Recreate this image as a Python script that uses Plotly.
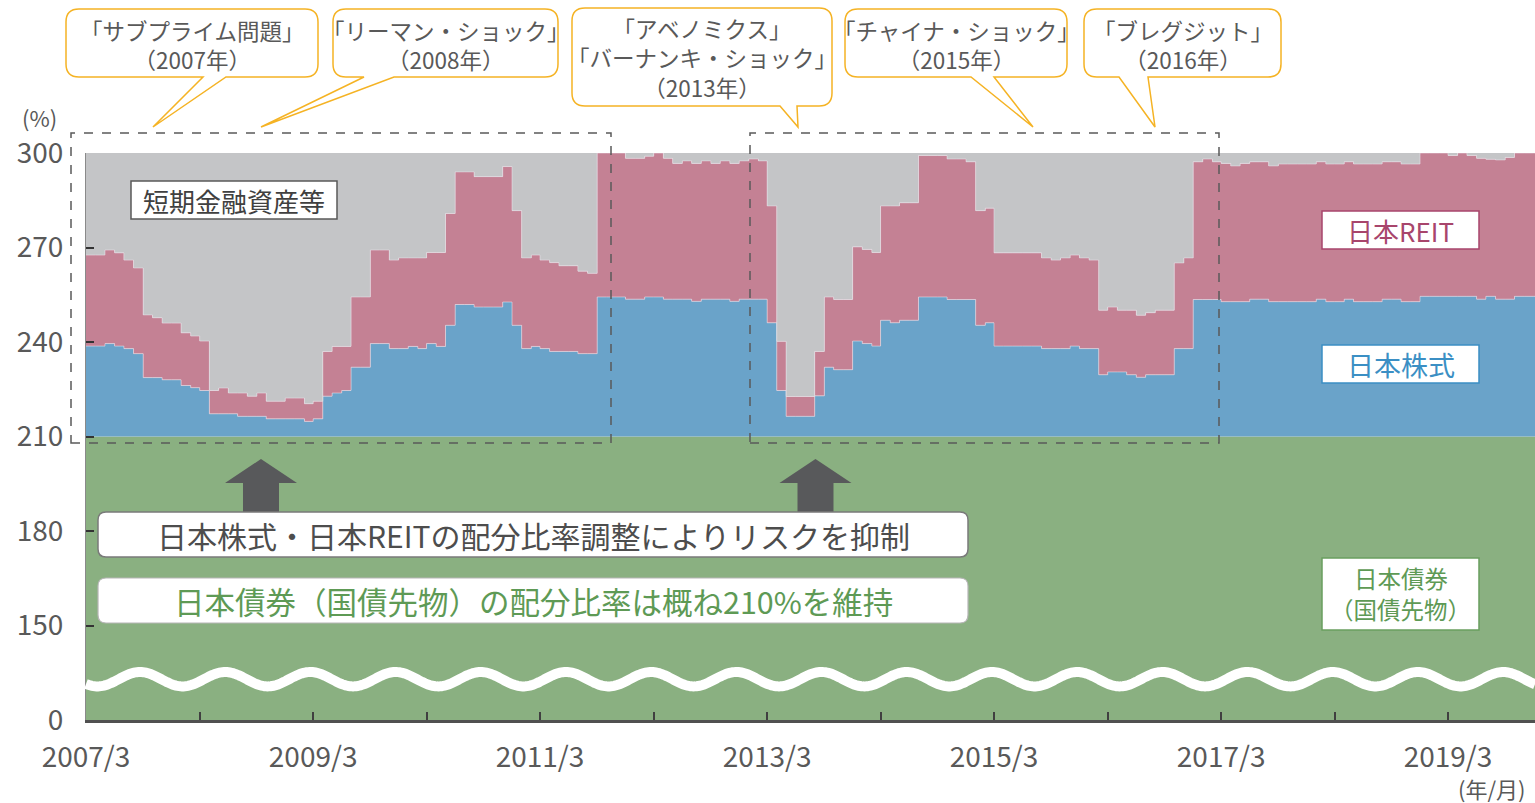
import math
import pandas as pd
import plotly.graph_objects as go

# ---------------- data (monthly, 2007/3 - 2019/12) ----------------
months = pd.date_range("2007-03-01", "2019-12-01", freq="MS")

stocks = [
    28.7, 28.7, 29.5, 28.7, 27.9, 26.3, 18.7, 18.7, 18.0, 18.0, 16.2, 15.5,   # 2007/3-
    14.6, 7.2, 7.2, 7.2, 6.4, 6.4, 6.4, 5.6, 5.6, 5.6, 5.6, 4.8,              # 2008/3-
    5.6, 12.8, 13.8, 14.6, 22.0, 22.0, 29.5, 29.5, 27.9, 27.9, 28.6, 27.9,    # 2009/3-
    29.5, 28.6, 35.3, 41.9, 41.9, 41.1, 41.1, 41.1, 42.7, 35.3, 27.9, 28.6,   # 2010/3-
    27.9, 27.0, 27.0, 27.0, 26.3, 26.3, 44.3, 44.3, 44.3, 43.6, 43.6, 44.3,   # 2011/3-
    44.3, 43.6, 43.6, 43.6, 42.9, 43.6, 43.6, 43.6, 42.9, 43.6, 43.6, 43.6,   # 2012/3-
    36.1, 14.6, 6.4, 6.4, 6.4, 12.9, 22.0, 21.2, 21.2, 30.3, 29.5, 28.7,      # 2013/3-
    36.9, 36.1, 36.9, 36.9, 44.3, 44.3, 44.3, 43.5, 43.5, 43.5, 35.3, 36.1,   # 2014/3-
    28.7, 28.7, 28.7, 28.7, 28.7, 27.9, 27.9, 27.9, 28.7, 27.9, 27.9, 19.6,   # 2015/3-
    20.5, 20.5, 19.6, 18.8, 19.6, 19.6, 19.6, 27.9, 27.9, 43.5, 43.5, 43.5,   # 2016/3-
    42.8, 42.8, 42.8, 43.6, 43.6, 42.8, 42.8, 42.8, 42.8, 42.8, 43.6, 42.8,   # 2017/3-
    42.8, 43.6, 42.8, 42.8, 42.8, 43.6, 43.6, 42.8, 42.8, 44.5, 44.5, 44.5,   # 2018/3-
    44.5, 44.5, 44.5, 43.6, 44.5, 43.6, 43.6, 44.5, 44.5, 44.5,               # 2019/3-12
]

reit = [
    28.9, 28.9, 29.7, 29.6, 28.1, 27.2, 19.9, 19.0, 18.0, 18.0, 16.7, 16.4,
    15.7, 7.4, 8.2, 6.6, 7.4, 6.4, 7.4, 5.6, 5.6, 6.6, 6.6, 5.6,
    5.6, 14.2, 14.8, 14.0, 22.3, 22.3, 29.7, 29.7, 28.1, 28.8, 28.1, 28.8,
    28.9, 29.8, 35.5, 42.1, 42.1, 41.4, 41.4, 41.4, 43.0, 36.4, 28.8, 29.0,
    28.1, 28.2, 27.2, 27.2, 26.2, 25.5, 45.7, 45.7, 45.7, 44.7, 44.7, 44.7,
    45.7, 44.7, 43.1, 43.9, 43.8, 43.9, 43.1, 43.9, 43.8, 43.9, 44.5, 43.9,
    37.1, 15.6, 6.3, 6.3, 6.3, 14.1, 22.3, 22.3, 22.3, 29.9, 29.9, 29.7,
    36.3, 37.1, 37.3, 37.3, 44.9, 44.9, 44.9, 44.6, 44.6, 43.7, 36.4, 36.4,
    29.6, 29.6, 29.6, 29.6, 29.6, 28.8, 28.1, 28.8, 28.9, 28.8, 28.1, 20.5,
    20.6, 19.6, 20.5, 19.7, 19.7, 20.5, 20.5, 27.2, 28.8, 43.7, 44.6, 43.7,
    43.9, 43.1, 43.9, 43.6, 43.6, 43.1, 43.7, 43.7, 43.7, 43.7, 43.6, 43.7,
    43.7, 43.6, 43.7, 43.7, 43.7, 43.6, 43.6, 43.7, 43.7, 45.5, 45.5, 45.5,
    44.7, 45.5, 44.7, 44.7, 43.5, 44.2, 45.0, 45.5, 45.5, 45.5,
]

bonds = [210.0] * len(months)          # 日本債券（国債先物）: ~210% throughout
TOTAL = 300.0
cash = [max(0.0, round(TOTAL - b - s - r, 1)) for b, s, r in zip(bonds, stocks, reit)]

tick_dates = ["2007-03-01", "2009-03-01", "2011-03-01", "2013-03-01",
              "2015-03-01", "2017-03-01", "2019-03-01"]
tick_labels = ["2007/3", "2009/3", "2011/3", "2013/3", "2015/3", "2017/3", "2019/3"]
y_tickvals = [120, 150, 180, 210, 240, 270, 300]
y_ticktext = ["0", "150", "180", "210", "240", "270", "300"]

# extend last month so the final step is drawn
x_vals = list(months) + [pd.Timestamp("2020-01-01")]
def ext(a):
    return list(a) + [a[-1]]

FONT = "Noto Sans CJK JP"
GRAY_TXT = "#595959"
C_GREEN = "#8AB081"
C_BLUE = "#6AA3C9"
C_PINK = "#C48194"
C_GREY = "#C4C5C7"

fig = go.Figure()
series = [
    ("日本債券（国債先物）", bonds, C_GREEN, 0),
    ("日本株式", stocks, C_BLUE, 1),
    ("日本REIT", reit, C_PINK, 1),
    ("短期金融資産等", cash, C_GREY, 0),
]
for name, vals, col, lw in series:
    fig.add_trace(go.Scatter(
        x=x_vals, y=ext(vals), name=name, mode="lines",
        stackgroup="one", fillcolor=col,
        line=dict(shape="hv", width=lw, color="rgba(235,225,235,0.55)" if lw else col),
        showlegend=False, hoverinfo="skip",
    ))

# ---------------- geometry helpers (pixel -> paper) ----------------
L, R, T, B = 86, 1535, 153, 720
def px(x):
    return (x - L) / (R - L)
def py(y):
    return (B - y) / (B - T)
def P(x, y):
    return f"{px(x):.5f},{py(y):.5f}"

shapes = []

# wavy break line
wave_pts = []
x = 86.0
while x <= 1535.0:
    y = 679.2 - 7.2 * math.cos(2 * math.pi * (x - 140.0) / 85.2)
    wave_pts.append(P(x, y))
    x += 1.5
shapes.append(dict(type="path", xref="paper", yref="paper",
                   path="M " + " L ".join(wave_pts),
                   line=dict(color="white", width=10), layer="above"))

# dashed highlight rectangles
for x0, x1 in [(71, 611), (750, 1219)]:
    shapes.append(dict(type="rect", xref="paper", yref="paper",
                       x0=px(x0), x1=px(x1), y0=py(443), y1=py(133),
                       line=dict(color="#5a5a5a", width=1.5, dash="dash"),
                       fillcolor="rgba(0,0,0,0)", layer="above"))

# up arrows
def arrow(cx):
    pts = [(cx, 459), (cx + 36, 483), (cx + 18, 483), (cx + 18, 515),
           (cx - 18, 515), (cx - 18, 483), (cx - 36, 483)]
    return "M " + " L ".join(P(a, b) for a, b in pts) + " Z"
for cx in (261, 815.5):
    shapes.append(dict(type="path", xref="paper", yref="paper", path=arrow(cx),
                       fillcolor="#58595B", line=dict(width=0), layer="above"))

def rounded(x0, y0, x1, y1, r, tail=None):
    s = f"M {P(x0 + r, y0)} L {P(x1 - r, y0)} Q {P(x1, y0)} {P(x1, y0 + r)} "
    s += f"L {P(x1, y1 - r)} Q {P(x1, y1)} {P(x1 - r, y1)} "
    if tail:
        tb1, tb2, tx, ty = tail
        s += f"L {P(tb2, y1)} L {P(tx, ty)} L {P(tb1, y1)} "
    s += f"L {P(x0 + r, y1)} Q {P(x0, y1)} {P(x0, y1 - r)} "
    s += f"L {P(x0, y0 + r)} Q {P(x0, y0)} {P(x0 + r, y0)} Z"
    return s

# message boxes
shapes.append(dict(type="path", xref="paper", yref="paper",
                   path=rounded(98, 512, 968, 557, 8), fillcolor="white",
                   line=dict(color="#7a7a7a", width=1.5), layer="above"))
shapes.append(dict(type="path", xref="paper", yref="paper",
                   path=rounded(98, 578, 968, 623, 8), fillcolor="white",
                   line=dict(color="#b5b5b5", width=1.2), layer="above"))

# series label boxes
for (x0, y0, x1, y1, lc) in [(131, 181, 337, 219, "#595959"),
                             (1322, 211, 1479, 249, "#A8456C"),
                             (1322, 345, 1479, 383, "#3B8FC4"),
                             (1322, 558, 1479, 630, "#6A9F5F")]:
    shapes.append(dict(type="rect", xref="paper", yref="paper",
                       x0=px(x0), x1=px(x1), y0=py(y1), y1=py(y0),
                       fillcolor="white", line=dict(color=lc, width=1.5), layer="above"))

annotations = []
def label(text, x, y, size, color, xanchor="center"):
    annotations.append(dict(xref="paper", yref="paper", x=px(x), y=py(y), text=text,
                            showarrow=False, xanchor=xanchor, yanchor="middle", align="center",
                            borderpad=0,
                            font=dict(family=FONT, size=size, color=color)))

# callouts
ORANGE = "#F5B324"
callouts = [
    ((66, 9, 318, 77), (203, 226, 153, 127),
     "「サブプライム問題」<br>（2007年）", 192, 44),
    ((333, 9, 558, 77), (364, 394, 261, 127),
     "「リーマン・ショック」<br>（2008年）", 445.5, 44),
    ((572, 8, 832, 106), (780, 797, 798, 127),
     "「アベノミクス」<br>「バーナンキ・ショック」<br>（2013年）", 702, 57),
    ((845, 9, 1067, 77), (971, 994, 1033, 127),
     "「チャイナ・ショック」<br>（2015年）", 956, 44),
    ((1084, 9, 1281, 77), (1119, 1148, 1155, 127),
     "「ブレグジット」<br>（2016年）", 1182.5, 44),
]
for (x0, y0, x1, y1), tail, text, tx, ty in callouts:
    shapes.append(dict(type="path", xref="paper", yref="paper",
                       path=rounded(x0, y0, x1, y1, 13, tail), fillcolor="white",
                       line=dict(color=ORANGE, width=1.5), layer="above"))
    label(text, tx, ty, 22.5, GRAY_TXT)

label("短期金融資産等", 234, 200, 26, "#404040")
label("日本REIT", 1400.5, 230, 26, "#A8456C")
label("日本株式", 1400.5, 364, 27, "#3B8FC4")
label("日本債券", 1400.5, 577.5, 23.5, "#5E9A55")
label("（国債先物）", 1400.5, 608.5, 23.5, "#5E9A55")
label("日本株式・日本REITの配分比率調整によりリスクを抑制", 533, 535, 30, "#4D4D4D")
label("日本債券（国債先物）の配分比率は概ね210%を維持", 533, 600.5, 30.5, "#5E9A55")
label("(%)", 39, 117, 22, GRAY_TXT)
label("(年/月)", 1527, 788, 22, GRAY_TXT, xanchor="right")

fig.update_layout(
    width=1535, height=803,
    margin=dict(l=L, r=1535 - R, t=T, b=803 - B),
    paper_bgcolor="white", plot_bgcolor="white",
    font=dict(family=FONT, color=GRAY_TXT),
    shapes=shapes, annotations=annotations, showlegend=False,
)
fig.update_xaxes(
    range=["2007-03-01", "2019-12-06"], showgrid=False, zeroline=False,
    tickmode="array", tickvals=tick_dates, ticktext=tick_labels,
    ticks="inside", ticklen=8, tickwidth=1.5, tickcolor="#404040",
    minor=dict(ticks="inside", ticklen=8, tickwidth=1.5, tickcolor="#404040",
               dtick="M12", tick0="2007-03-01", showgrid=False),
    showline=True, linecolor="#505050", linewidth=2.5,
    tickfont=dict(family=FONT, size=28, color=GRAY_TXT), ticklabelstandoff=11,
)
fig.update_yaxes(
    range=[120, 300], showgrid=False, zeroline=False,
    tickmode="array", tickvals=y_tickvals, ticktext=y_ticktext,
    ticks="inside", ticklen=8, tickwidth=2, tickcolor="#333333",
    showline=True, linecolor="#8a8a8a", linewidth=1,
    tickfont=dict(family=FONT, size=28, color=GRAY_TXT), ticklabelstandoff=16,
)

fig.write_html("out.html", config={"displayModeBar": False},
               post_script="document.body.style.margin='0';")
